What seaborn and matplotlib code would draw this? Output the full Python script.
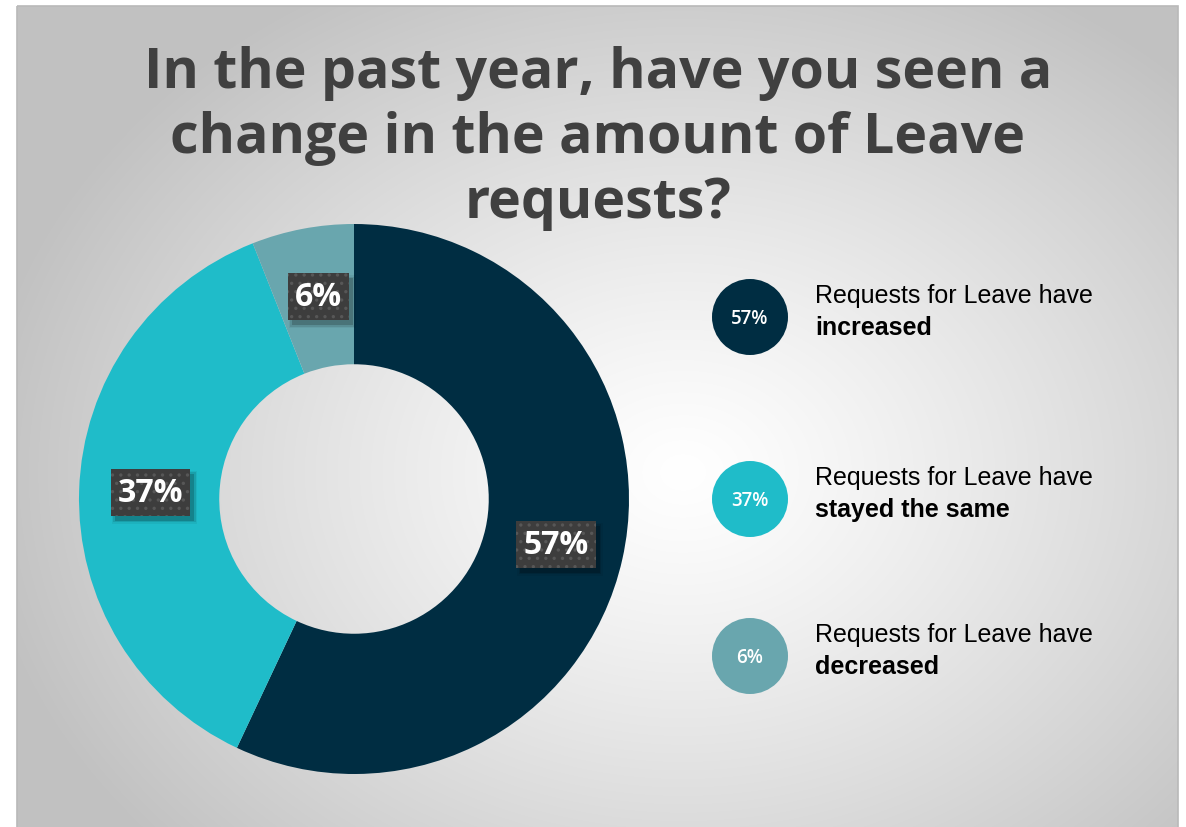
import numpy as np
import matplotlib
matplotlib.use('Agg')
import matplotlib.pyplot as plt
import matplotlib.transforms as mtransforms
from matplotlib.patches import Circle, Rectangle
import seaborn as sns

# Data
categories = ['increased', 'stayed the same', 'decreased']
values = [57, 37, 6]
colors = ['#002d42', '#1fbcc9', '#69a6ae']
title = 'In the past year, have you seen a\nchange in the amount of Leave\nrequests?'
legend_prefix = 'Requests for Leave have'

sns.set_style('white')
plt.rcParams['font.family'] = ['Open Sans', 'DejaVu Sans']
plt.rcParams['hatch.linewidth'] = 1.2

W, H = 1186, 828
fig = plt.figure(figsize=(W / 100, H / 100), dpi=100)
fig.patch.set_facecolor('white')

# background panel with radial gradient
bg = fig.add_axes([0, 0, 1, 1])
bg.set_xlim(0, W)
bg.set_ylim(H, 0)
bg.axis('off')
yy, xx = np.mgrid[0:H, 0:W]
r = np.sqrt(((xx - 680) / 720.0) ** 2 + ((yy - 470) / 560.0) ** 2)
shade = 1.0 - 0.24 * np.clip(r, 0, 1) ** 1.2
img = np.dstack([shade, shade, shade])
bg.imshow(img, extent=(17, 1178, 828, 7), aspect='auto', zorder=0)
bg.add_patch(Rectangle((17, 7), 1161, 830, fill=False, ec='#b9b9b9', lw=1.2, zorder=1))

fig.text(598 / W, 1 - 46 / H, title, ha='center', va='top', fontsize=40,
         fontweight='bold', color='#404040', linespacing=1.24)

# donut
ax = fig.add_axes([79 / W, 53 / H, 550 / W, 550 / H])
wedges, _ = ax.pie(values, colors=colors, startangle=90, counterclock=False,
                   radius=1, wedgeprops=dict(width=0.51, edgecolor='none'))
ax.set_xlim(-1, 1)
ax.set_ylim(-1, 1)
ax.set_aspect('equal')
ax.axis('off')

label_pos = [(0.735, -0.165), (-0.74, 0.025), (-0.13, 0.735)]
labels = []
for v, (lx, ly) in zip(values, label_pos):
    t = ax.text(lx, ly, f'{v}%', ha='center', va='center', fontsize=23,
                fontweight='bold', color='white', zorder=5,
                bbox=dict(boxstyle='square,pad=0.22', fc='#3d3d3d', ec='#575757',
                          lw=0, hatch='..'))
    labels.append(t)

# soft shadows under the label boxes
fig.canvas.draw()
ident = mtransforms.IdentityTransform()
for t in labels:
    bb = t.get_bbox_patch().get_window_extent()
    for grow, a in [(0, 0.18), (3, 0.10), (6, 0.05)]:
        ax.add_artist(Rectangle((bb.x0 + 4 - grow / 2, bb.y0 - 5 - grow / 2),
                                bb.width + grow, bb.height + grow,
                                transform=ident, fc='black', ec='none', alpha=a,
                                zorder=4, clip_on=False))

# legend
lg = fig.add_axes([0, 0, 1, 1])
lg.set_xlim(0, W)
lg.set_ylim(H, 0)
lg.axis('off')
leg_y = [318, 500, 657]
narrow = ['Liberation Sans Narrow', 'Liberation Sans']
for v, c, cat, cy in zip(values, colors, categories, leg_y):
    lg.add_patch(Circle((750, cy), 38, fc=c, ec='none'))
    lg.text(750, cy + 1, f'{v}%', ha='center', va='center', fontsize=13.5,
            fontweight='semibold', color='white')
    lg.text(815, cy - 22, legend_prefix, ha='left', va='center', fontsize=18,
            color='black', family=narrow)
    lg.text(815, cy + 10, cat, ha='left', va='center', fontsize=18,
            fontweight='bold', color='black', family=narrow)

fig.savefig('out.png', dpi=100)
